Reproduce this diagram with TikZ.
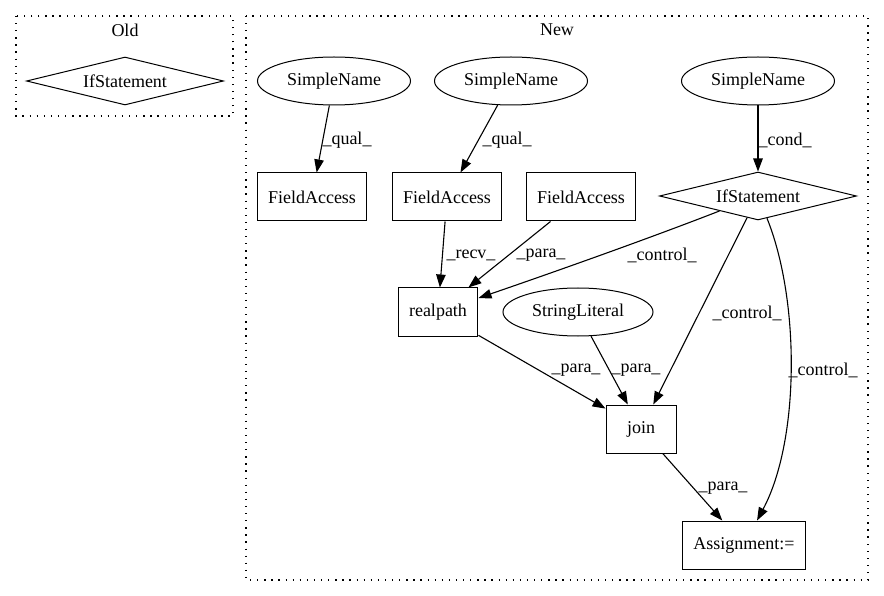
\documentclass[tikz,border=0pt]{standalone}
\usepackage{fontspec}
\setmainfont{Liberation Serif}
\usepackage{tikz}
\usetikzlibrary{shapes.geometric, arrows.meta}
\tikzstyle{box} = [draw, rectangle, line width=1pt, minimum width=70pt, minimum height=48pt, inner xsep=11pt]
\tikzstyle{oval} = [draw, ellipse, line width=1pt, minimum width=153pt, minimum height=48pt, inner sep=0pt]
\tikzstyle{decision} = [draw, diamond, aspect=4, line width=1pt, minimum width=197pt, minimum height=48pt, inner sep=0pt]
\tikzstyle{arrow} = [line width=1.1pt, -{Triangle[length=13pt,width=9.5pt]}]
\tikzstyle{cluster} = [line width=1.3pt, dash pattern=on 1.3pt off 5.8pt]
\tikzstyle{lbl} = [inner sep=0pt]

\begin{document}
\begin{tikzpicture}[x=1pt, y=-1pt, font=\fontsize{18}{21}\selectfont]
        \useasboundingbox (0,0) rectangle (884,596);
        % clusters
        \draw[cluster] (16,16) rectangle (233,116);
        \draw[cluster] (246,16) rectangle (868,580);
        \node (oldtitle) at (125,30) {Old};
        \node (newtitle) at (557,30) {New};
        \node[decision] (ifold) at (125,81) {IfStatement};
        % nodes of New
        \node[oval] (simplename1) at (334,81) {SimpleName};
        \node[oval] (simplename2) at (511,81) {SimpleName};
        \node[oval] (simplename3) at (758,81) {SimpleName};
        \node[box] (fieldaccess1) at (312,197) {FieldAccess};
        \node[box] (fieldaccess2) at (447,197) {FieldAccess};
        \node[box] (fieldaccess3) at (581,197) {FieldAccess};
        \node[decision] (ifnew) at (758,196) {IfStatement};
        \node[box] (realpath) at (438,312) {realpath};
        \node[oval, minimum width=150pt] (stringliteral) at (578,312) {StringLiteral};
        \node[box] (join) at (641,429) {join};
        \node[box] (assign) at (744,545) {Assignment:=};
        % edges
        \draw[arrow] (simplename1) -- (fieldaccess1) node[lbl] (qual1) at (347,140) {\_qual\_};
        \draw[arrow] (simplename2) -- (fieldaccess2) node[lbl] (qual2) at (507,140) {\_qual\_};
        \draw[arrow] (simplename3) -- (ifnew) node[lbl] (cond) at (785,140) {\_cond\_};
        \draw[arrow] (fieldaccess2) -- (realpath) node[lbl] (recv) at (471,255) {\_recv\_};
        \draw[arrow] (fieldaccess3) -- (realpath) node[lbl] (para1) at (541,255) {\_para\_};
        \draw[arrow] (ifnew) .. controls (650,238) and (560,270) .. (realpath) node[lbl] (control1) at (662,255) {\_control\_};
        \draw[arrow] (ifnew) -- (join) node[lbl] (control2) at (747,313) {\_control\_};
        \draw[arrow] (ifnew) .. controls (800,300) and (800,440) .. (assign) node[lbl] (control3) at (823,370) {\_control\_};
        \draw[arrow] (realpath) -- (join) node[lbl] (para2) at (576,370) {\_para\_};
        \draw[arrow] (stringliteral) -- (join) node[lbl] (para3) at (636,370) {\_para\_};
        \draw[arrow] (join) -- (assign) node[lbl] (para4) at (723,488) {\_para\_};
\end{tikzpicture}
\end{document}
